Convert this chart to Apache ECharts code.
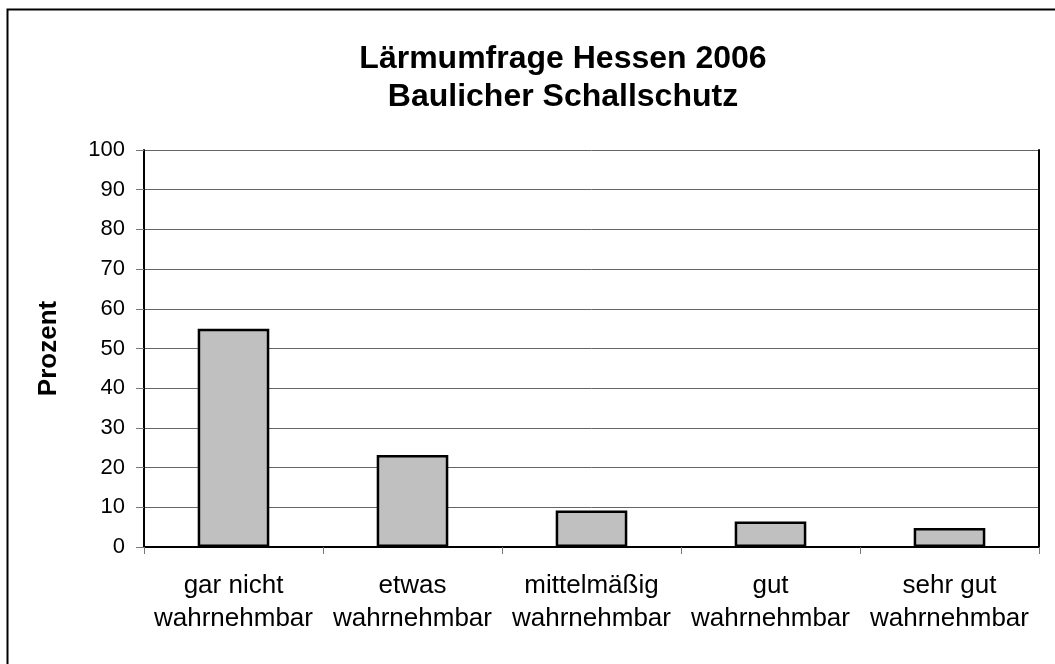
<!DOCTYPE html>
<html>
<head>
<meta charset="utf-8">
<script src="https://cdn.jsdelivr.net/npm/echarts@6/dist/echarts.min.js"></script>
<style>
html, body { margin: 0; padding: 0; background: #fff; }
#chart { width: 1055px; height: 664px; }
</style>
</head>
<body>
<div id="chart"></div>
<script>
var categories = ['gar nicht\nwahrnehmbar', 'etwas\nwahrnehmbar', 'mittelmäßig\nwahrnehmbar', 'gut\nwahrnehmbar', 'sehr gut\nwahrnehmbar'];
var values = [55, 23.2, 9.2, 6.4, 4.8];
var yTicks = [0, 100, 10];

var myChart = echarts.init(document.getElementById('chart'));
var font = 'Liberation Sans, Arial, sans-serif';
var option = {
    backgroundColor: '#fff',
    animation: false,
    title: {
        text: 'Lärmumfrage Hessen 2006\nBaulicher Schallschutz',
        left: 558,
        top: 35,
        textAlign: 'center',
        textStyle: { fontFamily: font, fontSize: 32, fontWeight: 'bold', color: '#000', lineHeight: 38 }
    },
    graphic: [{
        type: 'rect',
        shape: { x: 7.5, y: 9.5, width: 1200, height: 800 },
        style: { fill: 'none', stroke: '#000', lineWidth: 2 },
        silent: true
    }],
    grid: { left: 144, right: 16, top: 150, bottom: 117 },
    xAxis: {
        type: 'category',
        data: categories,
        axisLine: { lineStyle: { color: '#000', width: 2 } },
        axisTick: { show: true, length: 7, lineStyle: { color: '#777', width: 1 } },
        axisLabel: { fontFamily: font, fontSize: 26, color: '#000', lineHeight: 33, margin: 22, interval: 0 }
    },
    yAxis: [{
        type: 'value',
        min: yTicks[0],
        max: yTicks[1],
        interval: yTicks[2],
        name: 'Prozent',
        nameLocation: 'middle',
        nameGap: 82,
        nameTextStyle: { fontFamily: font, fontSize: 26, fontWeight: 'bold', color: '#000' },
        axisLine: { show: true, lineStyle: { color: '#000', width: 2 } },
        axisTick: { show: true, length: 8, lineStyle: { color: '#777', width: 1 } },
        axisLabel: { fontFamily: font, fontSize: 22, color: '#000', margin: 19 },
        splitLine: { show: true, lineStyle: { color: '#666', width: 1 } }
    }, {
        type: 'value',
        position: 'right',
        min: yTicks[0],
        max: yTicks[1],
        interval: yTicks[2],
        axisLine: { show: true, lineStyle: { color: '#000', width: 2 } },
        axisTick: { show: false },
        axisLabel: { show: false },
        splitLine: { show: false }
    }],
    series: [{
        type: 'bar',
        data: values,
        barWidth: '40%',
        itemStyle: { color: '#c0c0c0', borderColor: '#000', borderWidth: 2.5 }
    }]
};
myChart.setOption(option);
</script>
</body>
</html>
